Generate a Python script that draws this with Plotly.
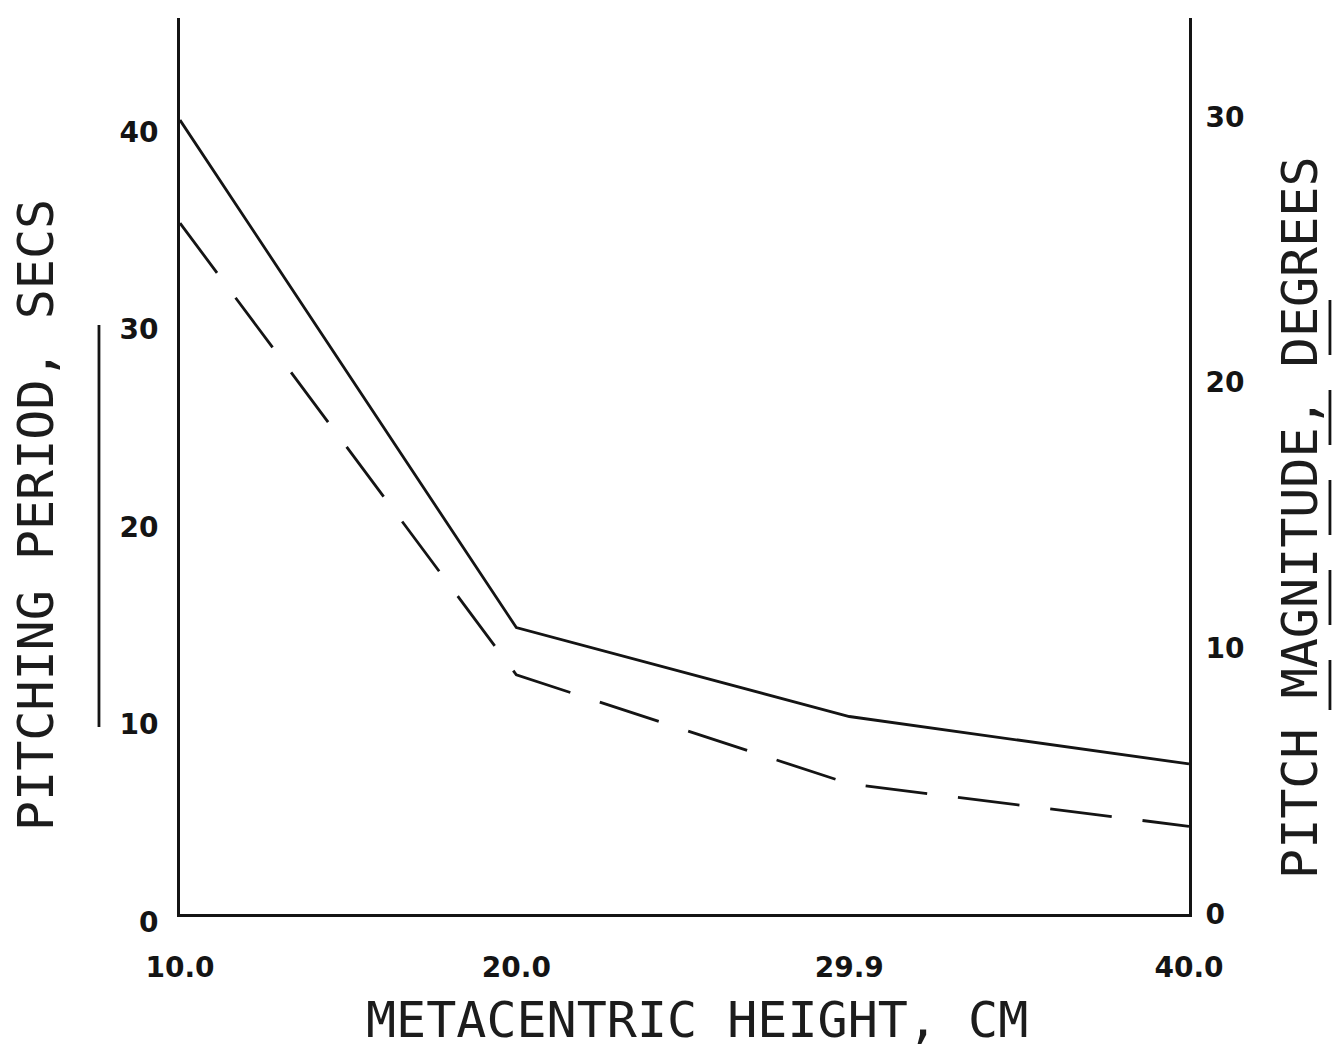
import plotly.graph_objects as go

# ---- data ----
metacentric_height_cm = [10.0, 20.0, 29.9, 40.0]
pitching_period_s = [40.2, 14.5, 10.0, 7.6]      # solid line, left axis
pitch_magnitude_deg = [26.0, 9.0, 4.9, 3.3]      # dashed line, right axis

x_tick_vals = [10.0, 20.0, 29.9, 40.0]
x_tick_text = ["10.0", "20.0", "29.9", "40.0"]
left_tick_vals = [0, 10, 20, 30, 40]
right_tick_vals = [0, 10, 20, 30]

INK = "#141414"
TITLE_FONT = dict(family="DejaVu Sans Mono", size=50, color="#1c1c1c")
TICK_FONT = dict(family="DejaVu Sans", size=28, color=INK, weight="bold")

fig = go.Figure()
fig.add_trace(go.Scatter(
    x=metacentric_height_cm, y=pitching_period_s, mode="lines",
    line=dict(color=INK, width=2.8), yaxis="y", showlegend=False,
    hoverinfo="skip"))
fig.add_trace(go.Scatter(
    x=metacentric_height_cm, y=pitch_magnitude_deg, mode="lines",
    line=dict(color=INK, width=2.8, dash="62px,31px"), yaxis="y2",
    showlegend=False, hoverinfo="skip"))

fig.update_layout(
    width=1338, height=1054,
    margin=dict(l=180, r=149, t=18, b=140),
    paper_bgcolor="white", plot_bgcolor="white",
    xaxis=dict(range=[10, 40], tickmode="array", tickvals=x_tick_vals,
               ticktext=x_tick_text, showgrid=False, zeroline=False,
               showline=True, linecolor=INK, linewidth=2.8, ticks="",
               ticklabelstandoff=26, tickfont=TICK_FONT),
    yaxis=dict(range=[0, 45.37], tickmode="array", tickvals=left_tick_vals,
               showgrid=False, zeroline=False, showline=True, linecolor=INK,
               linewidth=2.8, ticks="", ticklabelstandoff=13,
               ticklabelshift=8, tickfont=TICK_FONT),
    yaxis2=dict(range=[0, 33.72], tickmode="array", tickvals=right_tick_vals,
                overlaying="y", side="right", showgrid=False, zeroline=False,
                showline=True, linecolor=INK, linewidth=2.8, ticks="",
                ticklabelstandoff=8, tickfont=TICK_FONT),
)

# axis titles
fig.add_annotation(text="METACENTRIC HEIGHT, CM", xref="paper", yref="paper",
                   x=0.5124, y=-0.1183, xanchor="center", yanchor="middle",
                   showarrow=False, font=TITLE_FONT)
fig.add_annotation(text="PITCHING PERIOD, SECS", xref="paper", yref="paper",
                   x=-0.1427, y=0.4453, xanchor="center", yanchor="middle",
                   textangle=-90, showarrow=False, font=TITLE_FONT)
fig.add_annotation(text="PITCH MAGNITUDE, DEGREES", xref="paper", yref="paper",
                   x=1.110, y=0.442, xanchor="center", yanchor="middle",
                   textangle=-90, showarrow=False, font=TITLE_FONT)

# line-style keys drawn beside the axis titles
fig.add_shape(type="line", xref="paper", yref="paper",
              x0=-0.0803, x1=-0.0803, y0=0.2087, y1=0.6574,
              line=dict(color=INK, width=2.8))
fig.add_shape(type="line", xref="paper", yref="paper",
              x0=1.1397, x1=1.1397, y0=0.6853, y1=0.2277,
              line=dict(color=INK, width=2.8, dash="55px,35px"))

fig.write_html("out.html", config={"displayModeBar": False},
               post_script="document.body.style.margin='0';"
                           "document.body.style.overflow='hidden';")
